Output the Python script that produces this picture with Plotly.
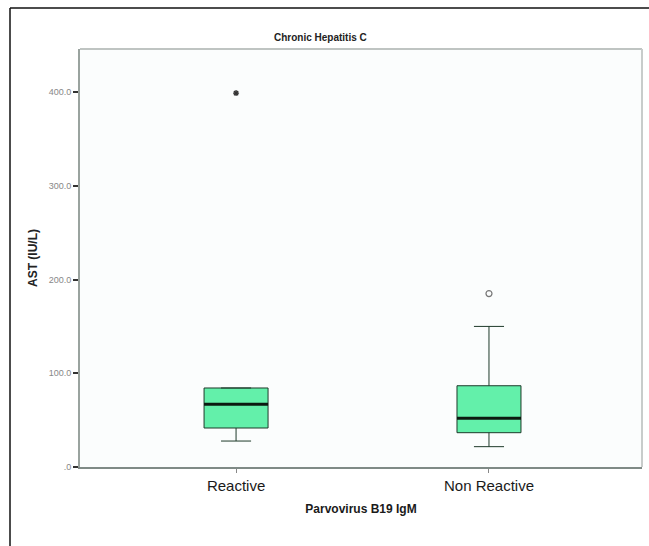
import plotly.graph_objects as go

# ---- data ----
categories = ["Reactive", "Non Reactive"]
positions = [0, 1]
q1_vals = [41.6, 36.6]
median_vals = [67.0, 52.0]
q3_vals = [84.3, 86.7]
lower_whisker = [27.7, 21.7]
upper_whisker = [84.3, 150.0]
extreme_x = [0]
extreme_y = [399.0]
outlier_x = [1]
outlier_y = [185.0]
y_tickvals = [0, 100, 200, 300, 400]
y_ticktext = [".0", "100.0", "200.0", "300.0", "400.0"]

W, H = 649, 546
L, R, T, B = 80, 7, 49, 79
box_w = 0.253
fill = "#63f0aa"
font_fam = "Arial, Liberation Sans, sans-serif"

fig = go.Figure()
fig.add_trace(go.Box(
    x=positions, q1=q1_vals, median=median_vals, q3=q3_vals,
    lowerfence=lower_whisker, upperfence=upper_whisker,
    width=box_w, whiskerwidth=0.47,
    fillcolor=fill, line=dict(color="#1e3a2a", width=1),
    boxpoints=False, showlegend=False, hoverinfo="skip",
))
# thick median lines
for xp, m in zip(positions, median_vals):
    fig.add_trace(go.Scatter(
        x=[xp - box_w / 2, xp + box_w / 2], y=[m, m], mode="lines",
        line=dict(color="#0b1a10", width=3), showlegend=False, hoverinfo="skip",
    ))
fig.add_trace(go.Scatter(
    x=extreme_x, y=extreme_y, mode="markers",
    marker=dict(symbol="asterisk", size=5, color="#333", line=dict(color="#333", width=1.3)),
    showlegend=False,
))
fig.add_trace(go.Scatter(
    x=outlier_x, y=outlier_y, mode="markers",
    marker=dict(symbol="circle-open", size=6, color="#777", line=dict(color="#777", width=1.2)),
    showlegend=False,
))

pw = W - L - R
ph = H - T - B
def px(x):
    return (x - L) / pw
def py(y):
    return (H - B - y) / ph

fig.update_layout(
    width=W, height=H,
    margin=dict(l=L, r=R, t=T, b=B),
    paper_bgcolor="white",
    plot_bgcolor="#fbfdfd",
    font=dict(family=font_fam, color="#222"),
    xaxis=dict(
        range=[-0.617, 1.605], tickvals=positions, ticktext=categories,
        showgrid=False, zeroline=False,
        showline=True, linecolor="#7f8a86", linewidth=2,
        ticks="outside", ticklen=4, tickcolor="#888", tickwidth=1,
        tickfont=dict(size=15, color="#1a1a1a"),
        title=dict(text="<b>Parvovirus B19 IgM</b>", font=dict(size=12, color="#1a1a1a"), standoff=12),
        mirror=False,
    ),
    yaxis=dict(
        range=[0, 446], tickvals=y_tickvals, ticktext=y_ticktext,
        showgrid=False, zeroline=False,
        showline=True, linecolor="#9aa39f", linewidth=2,
        ticks="outside", ticklen=5, tickcolor="#333", tickwidth=1.5,
        tickfont=dict(size=9, color="#888"),
        title=dict(text="<b>AST (IU/L)</b>", font=dict(size=12, color="#222"), standoff=8),
    ),
    shapes=[
        # top and right frame of plot area
        dict(type="line", xref="paper", yref="paper", x0=0, x1=1, y0=1, y1=1,
             line=dict(color="#bfc4c2", width=2)),
        dict(type="line", xref="paper", yref="paper", x0=1, x1=1, y0=0, y1=1,
             line=dict(color="#c8cccb", width=2)),
        # outer border (top and left edges of the figure frame)
        dict(type="line", xref="paper", yref="paper", x0=px(10), x1=px(W), y0=py(8), y1=py(8),
             line=dict(color="#111", width=1.5)),
        dict(type="line", xref="paper", yref="paper", x0=px(10), x1=px(10), y0=py(8), y1=py(H),
             line=dict(color="#111", width=1.5)),
    ],
    annotations=[
        dict(text="<b>Chronic Hepatitis C</b>", xref="paper", yref="paper",
             x=px(320), y=py(38), showarrow=False, font=dict(size=10, color="#222"),
             xanchor="center", yanchor="middle"),
    ],
)

fig.write_html("out.html")
